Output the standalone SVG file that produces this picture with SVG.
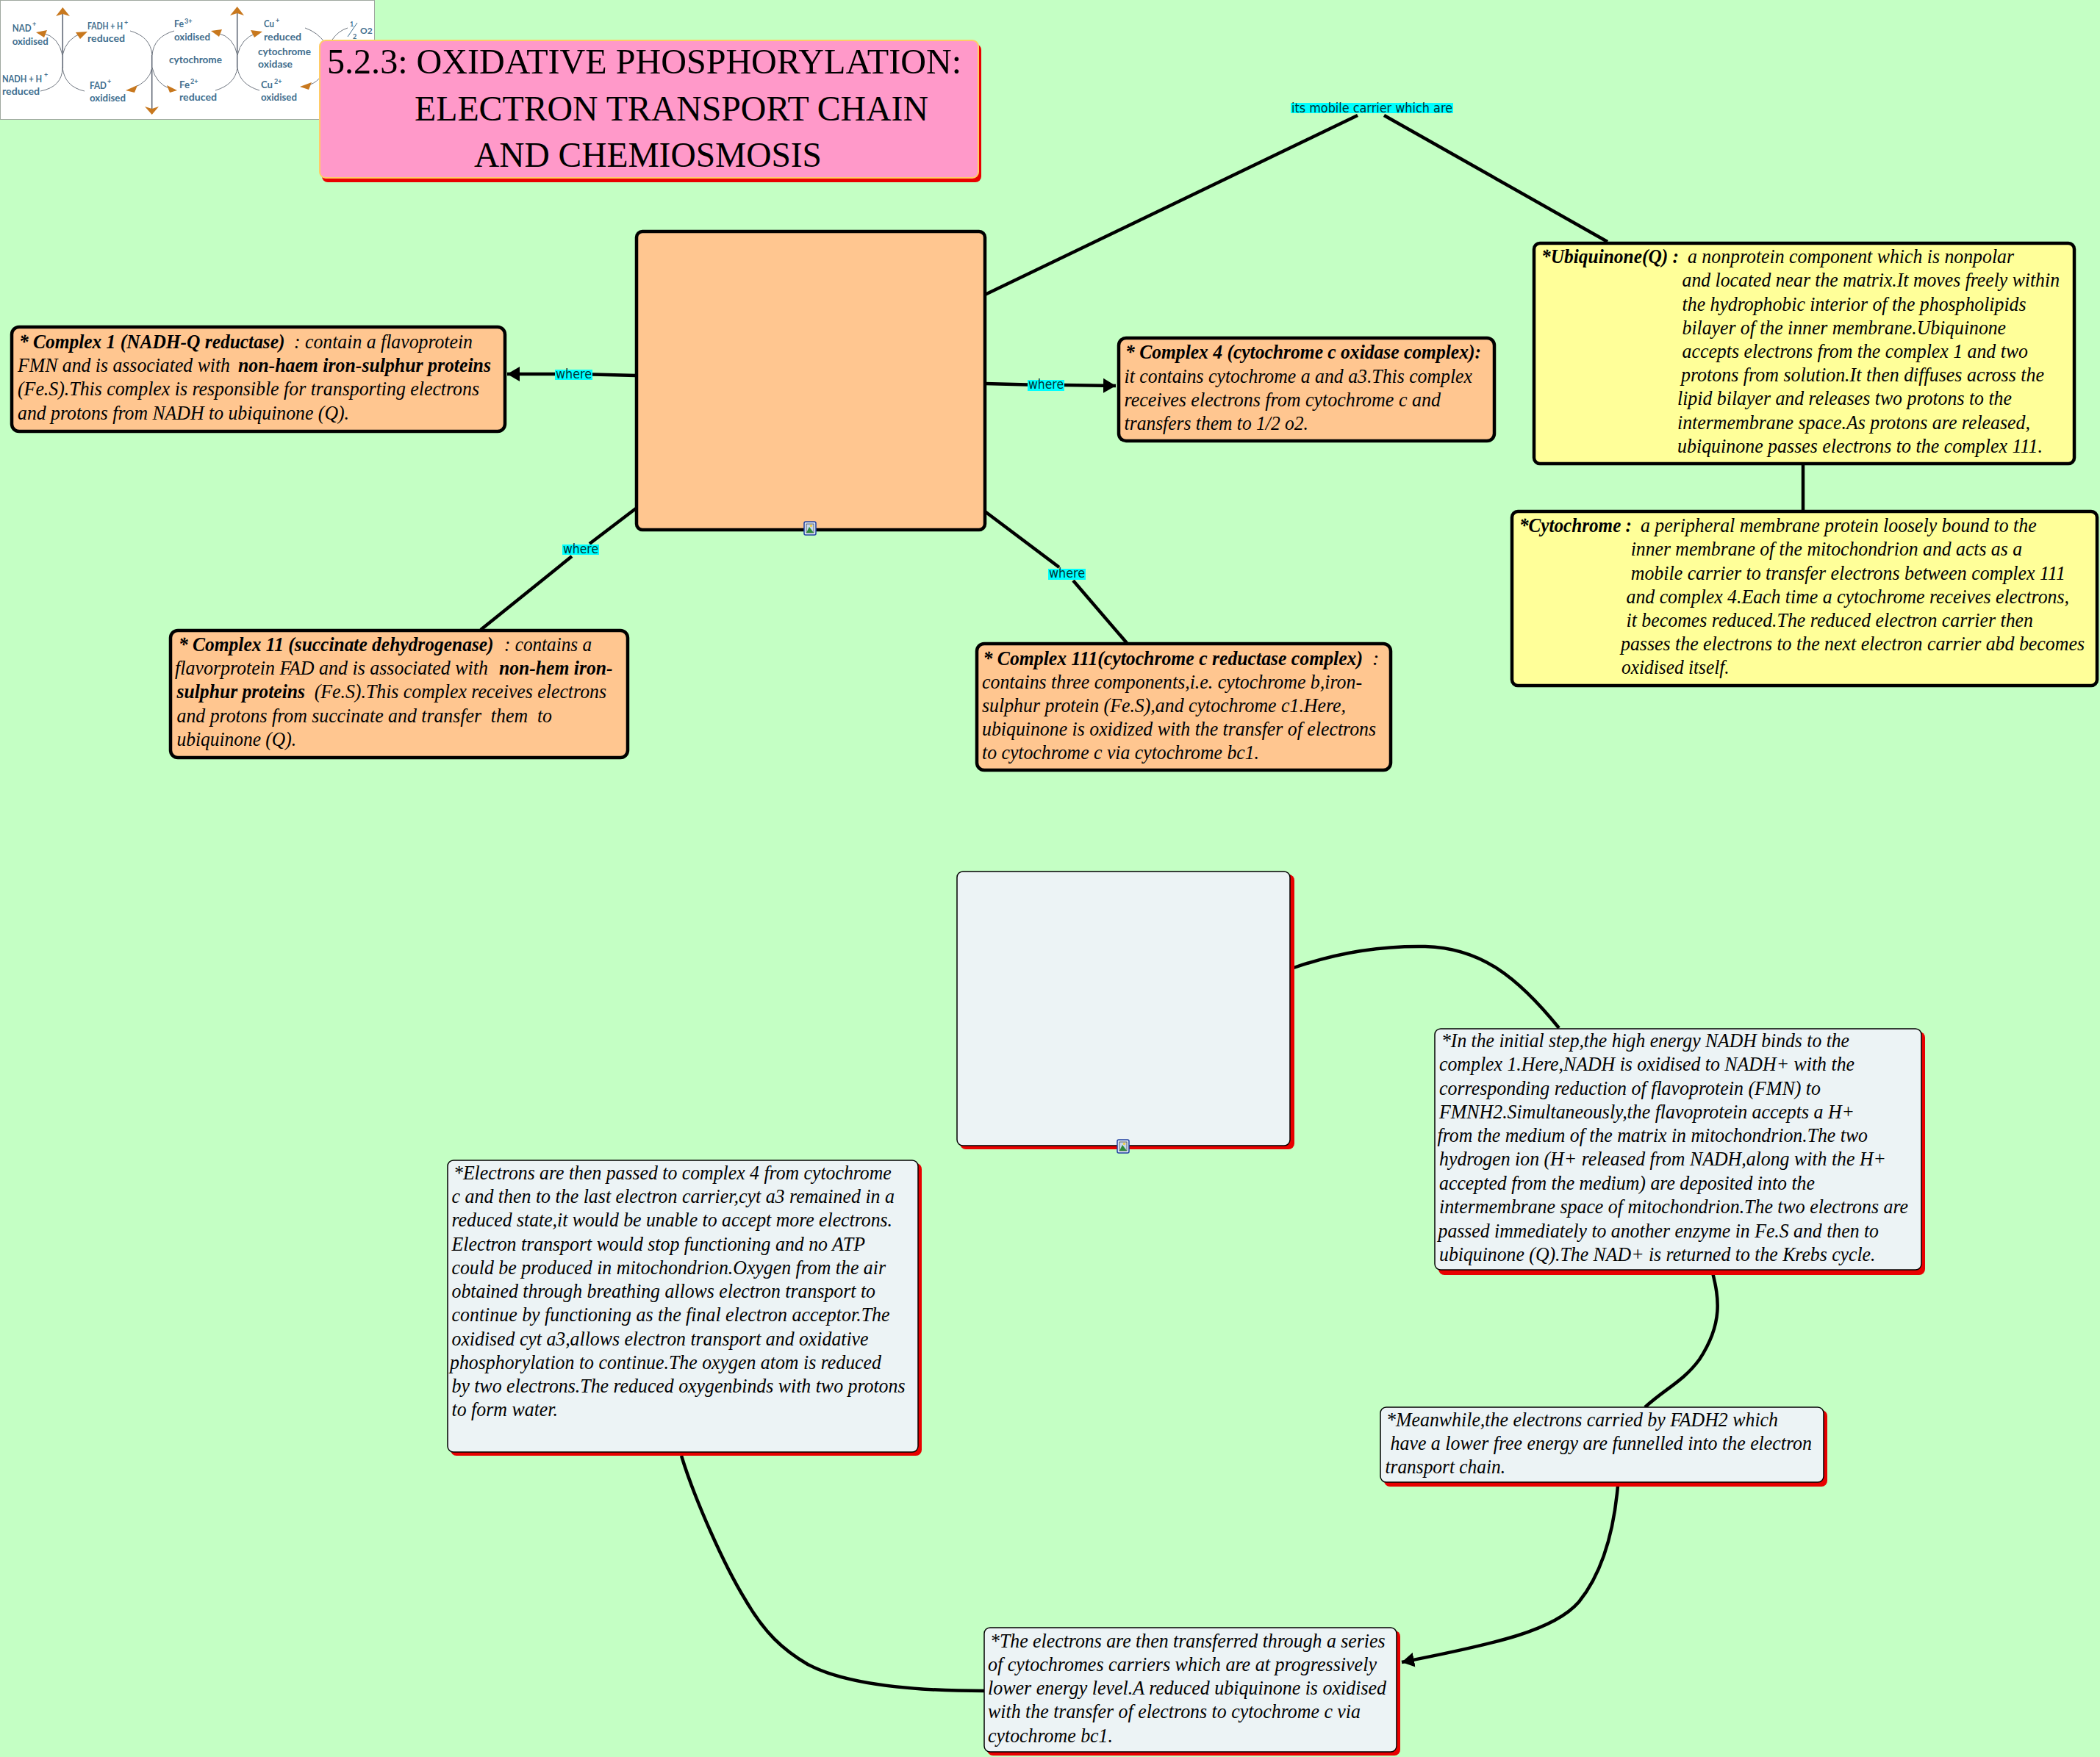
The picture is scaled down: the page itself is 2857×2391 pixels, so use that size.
<svg xmlns="http://www.w3.org/2000/svg" width="2857" height="2391" viewBox="0 0 2857 2391">
<style>
text{white-space:pre}
.b{font-family:"Liberation Serif",serif;font-style:italic;font-size:28px;fill:#000}
.bb{font-weight:bold}
.o{fill:#FFC690;stroke:#000;stroke-width:4.500}
.y{fill:#FFFF99;stroke:#000;stroke-width:4.500}
.g{fill:#ECF3F5;stroke:#000;stroke-width:1.500}
.s{fill:#E80000}
.c{fill:none;stroke:#000;stroke-width:4.500}
.lb{fill:#00FFFF}
.lt{font-family:"DejaVu Sans",sans-serif;font-size:17px;fill:#003333}
.p{font-family:Lato,"Liberation Sans",sans-serif;font-size:14px;font-weight:bold;fill:#3F6E8E}
.sp{font-family:Lato,"Liberation Sans",sans-serif;font-size:9px;font-weight:bold;fill:#3F6E8E}
.a{fill:none;stroke:#6F7680;stroke-width:1}
.v{fill:none;stroke:#5A6270;stroke-width:1.500}
.h{fill:#C8781E}
.t{font-family:"Liberation Serif",serif;font-size:48px;fill:#000}
</style>
<defs>
<marker id="ah" markerUnits="userSpaceOnUse" markerWidth="18" markerHeight="20" refX="17" refY="10" orient="auto"><path d="M0 0L17 10L0 20Z" fill="#000"/></marker>
<g id="pic"><rect x="0" y="0" width="16" height="18" rx="2" fill="#DCE8F8" stroke="#2040A0" stroke-width="1.500"/><rect x="3" y="3" width="10" height="12" fill="#C8D8F0" stroke="#333" stroke-width=".7"/><circle cx="9.500" cy="5.500" r="1.800" fill="#F0D050"/><path d="M3 15L7 7L13 15Z" fill="#2E8B3A"/></g>
</defs>
<rect width="2857" height="2391" fill="#C4FFC4"/>

<g id="picture-top">
<rect x=".5" y=".5" width="509" height="162" fill="#FFFFFF" stroke="#A0A8A0" stroke-width="1"/>
<path class="v" d="M85.300 93V18M206.700 75V148M322.700 92V18"/>
<path class="a" d="M85 75Q80 50 58 45M85 75Q90 52 112 45M55 124Q85 118 85 92M115 124Q88 118 85 92M177 42Q205 50 207 75M237 42Q209 50 207 75M207 92Q203 112 180 120M207 92Q212 114 232 121M293 123Q320 115 323 92M353 123Q326 115 323 92M323 75Q318 50 296 45M323 75Q328 52 349 45M415 38Q432 44 442 58M473 38Q460 42 452 54M434 107Q428 114 416 117"/>
<path class="h" d="M85.300 10L76 22L85.300 19L95 22ZM206.700 156L197 145L206.700 148L216 145ZM322.700 9L313 21L322.700 18L332 21ZM49 44L64 41L60 51ZM119 43L103 44L109 53ZM287 42L302 40L298 50ZM357 43L341 41L346 51ZM171 123L187 116L183 126ZM241 123L227 116L231 126ZM408 118L424 112L420 122Z"/>
<text class="p" x="16.700" y="43" textLength="26" lengthAdjust="spacingAndGlyphs">NAD</text><text class="sp" x="44" y="36">+</text>
<text class="p" x="16.700" y="61" textLength="49" lengthAdjust="spacingAndGlyphs">oxidised</text>
<text class="p" x="119" y="40" textLength="48" lengthAdjust="spacingAndGlyphs">FADH + H</text><text class="sp" x="169" y="34">+</text>
<text class="p" x="119" y="57" textLength="51" lengthAdjust="spacingAndGlyphs">reduced</text>
<text class="p" x="237" y="37" textLength="13" lengthAdjust="spacingAndGlyphs">Fe</text><text class="sp" x="251" y="32">3+</text>
<text class="p" x="237" y="54.500" textLength="49" lengthAdjust="spacingAndGlyphs">oxidised</text>
<text class="p" x="230" y="85.700" textLength="72" lengthAdjust="spacingAndGlyphs">cytochrome</text>
<text class="p" x="3" y="111.700" textLength="54" lengthAdjust="spacingAndGlyphs">NADH + H</text><text class="sp" x="60" y="105">+</text>
<text class="p" x="3" y="129" textLength="51" lengthAdjust="spacingAndGlyphs">reduced</text>
<text class="p" x="122" y="120.700" textLength="23" lengthAdjust="spacingAndGlyphs">FAD</text><text class="sp" x="146" y="114">+</text>
<text class="p" x="122" y="137.700" textLength="49" lengthAdjust="spacingAndGlyphs">oxidised</text>
<text class="p" x="244" y="120" textLength="14" lengthAdjust="spacingAndGlyphs">Fe</text><text class="sp" x="259" y="114">2+</text>
<text class="p" x="244" y="137" textLength="51" lengthAdjust="spacingAndGlyphs">reduced</text>
<text class="p" x="359" y="37" textLength="14" lengthAdjust="spacingAndGlyphs">Cu</text><text class="sp" x="375" y="31">+</text>
<text class="p" x="359" y="55" textLength="51" lengthAdjust="spacingAndGlyphs">reduced</text>
<text class="p" x="351" y="75" textLength="72" lengthAdjust="spacingAndGlyphs">cytochrome</text>
<text class="p" x="351" y="92" textLength="47" lengthAdjust="spacingAndGlyphs">oxidase</text>
<text class="p" x="355" y="120" textLength="16" lengthAdjust="spacingAndGlyphs">Cu</text><text class="sp" x="373" y="114">2+</text>
<text class="p" x="355" y="137" textLength="49" lengthAdjust="spacingAndGlyphs">oxidised</text>
<text class="sp" x="476" y="36">1</text><path d="M473 50L486 31" stroke="#3F6E8E" stroke-width="1" fill="none"/><text class="sp" x="480" y="53">2</text><text class="sp" x="490" y="46" style="font-size:12px">O2</text>
</g>

<g id="connectors">
<path class="c" d="M865 511L806 509.500"/>
<path class="c" marker-end="url(#ah)" d="M756 509L690 509"/>
<path class="c" d="M865 692L802 740M778 757L654 857"/>
<path class="c" d="M1340 522L1398 523.500"/>
<path class="c" marker-end="url(#ah)" d="M1448 524L1518 525"/>
<path class="c" d="M1340 696L1441 772M1460 790L1533 875"/>
<path class="c" d="M1340 401L1847 157M1883 157L2187 329"/>
<path class="c" d="M2453 631V695"/>
<path class="c" d="M1760 1317C1820 1296 1880 1287 1939 1288C2015 1290 2065 1330 2121 1399"/>
<path class="c" d="M2330 1732C2338 1765 2345 1800 2312 1850C2290 1880 2265 1890 2238 1915"/>
<path class="c" marker-end="url(#ah)" d="M2201 2022C2195 2090 2178 2143 2148 2180C2115 2218 2040 2236 1907 2262"/>
<path class="c" d="M927 1981C945 2040 985 2130 1014 2177C1040 2222 1065 2245 1099 2265C1150 2292 1240 2301 1339 2301"/>
</g>

<g id="title">
<rect class="s" x="438" y="60" width="897" height="188" rx="8"/>
<rect x="435" y="55" width="896" height="187" rx="8" fill="#FF99C9" stroke="#FFCC66" stroke-width="2"/>
<text class="t" x="445" y="100" textLength="863" lengthAdjust="spacingAndGlyphs">5.2.3: OXIDATIVE PHOSPHORYLATION:</text>
<text class="t" x="564" y="164" textLength="699" lengthAdjust="spacingAndGlyphs">ELECTRON TRANSPORT CHAIN</text>
<text class="t" x="645" y="227" textLength="473" lengthAdjust="spacingAndGlyphs">AND CHEMIOSMOSIS</text>
</g>

<g id="main-box"><rect class="o" x="866" y="315" width="474" height="406" rx="8"/><use href="#pic" x="1094" y="710"/></g>

<g id="complex1"><rect class="o" x="16" y="445" width="671" height="142" rx="10"/>
<text class="b bb" x="26" y="474" textLength="361.500" lengthAdjust="spacingAndGlyphs">* Complex 1 (NADH-Q reductase)</text>
<text class="b" x="400" y="474" textLength="243" lengthAdjust="spacingAndGlyphs">: contain a flavoprotein</text>
<text class="b" x="24" y="506" textLength="289" lengthAdjust="spacingAndGlyphs">FMN and is associated with</text>
<text class="b bb" x="324" y="506" textLength="344" lengthAdjust="spacingAndGlyphs">non-haem iron-sulphur proteins</text>
<text class="b" x="24" y="538" textLength="628" lengthAdjust="spacingAndGlyphs">(Fe.S).This complex is responsible for transporting electrons</text>
<text class="b" x="24" y="570.600" textLength="451" lengthAdjust="spacingAndGlyphs">and protons from NADH to ubiquinone (Q).</text>
</g>

<g id="complex11"><rect class="o" x="232" y="858" width="622" height="173" rx="10"/>
<text class="b bb" x="243" y="886" textLength="428.600" lengthAdjust="spacingAndGlyphs">* Complex 11 (succinate dehydrogenase)</text>
<text class="b" x="686" y="886" textLength="119" lengthAdjust="spacingAndGlyphs">: contains a</text>
<text class="b" x="238" y="918" textLength="426" lengthAdjust="spacingAndGlyphs">flavorprotein FAD and is associated with</text>
<text class="b bb" x="679" y="918" textLength="154.500" lengthAdjust="spacingAndGlyphs">non-hem iron-</text>
<text class="b bb" x="240.500" y="950" textLength="174.500" lengthAdjust="spacingAndGlyphs">sulphur proteins</text>
<text class="b" x="427.700" y="950" textLength="397.300" lengthAdjust="spacingAndGlyphs">(Fe.S).This complex receives electrons</text>
<text class="b" x="240.500" y="982.500" textLength="510.500" lengthAdjust="spacingAndGlyphs">and protons from succinate and transfer  them  to</text>
<text class="b" x="240.500" y="1014.700" textLength="162.500" lengthAdjust="spacingAndGlyphs">ubiquinone (Q).</text>
</g>

<g id="complex4"><rect class="o" x="1522" y="460" width="511" height="140" rx="10"/>
<text class="b bb" x="1531" y="488" textLength="484" lengthAdjust="spacingAndGlyphs">* Complex 4 (cytochrome c oxidase complex):</text>
<text class="b" x="1529.600" y="520.500" textLength="473.400" lengthAdjust="spacingAndGlyphs">it contains cytochrome a and a3.This complex</text>
<text class="b" x="1529.600" y="553" textLength="430.400" lengthAdjust="spacingAndGlyphs">receives electrons from cytochrome c and</text>
<text class="b" x="1529.600" y="585" textLength="250.400" lengthAdjust="spacingAndGlyphs">transfers them to 1/2 o2.</text>
</g>

<g id="complex111"><rect class="o" x="1329" y="876" width="563" height="172" rx="10"/>
<text class="b bb" x="1337.500" y="904.500" textLength="516.500" lengthAdjust="spacingAndGlyphs">* Complex 111(cytochrome c reductase complex)</text>
<text class="b" x="1867" y="904.500">:</text>
<text class="b" x="1336" y="936.500" textLength="517" lengthAdjust="spacingAndGlyphs">contains three components,i.e. cytochrome b,iron-</text>
<text class="b" x="1336" y="969" textLength="495" lengthAdjust="spacingAndGlyphs">sulphur protein (Fe.S),and cytochrome c1.Here,</text>
<text class="b" x="1336" y="1001" textLength="536" lengthAdjust="spacingAndGlyphs">ubiquinone is oxidized with the transfer of electrons</text>
<text class="b" x="1336" y="1033" textLength="377" lengthAdjust="spacingAndGlyphs">to cytochrome c via cytochrome bc1.</text>
</g>

<g id="ubiquinone"><rect class="y" x="2087" y="331" width="735" height="300" rx="8"/>
<text class="b bb" x="2097" y="357.600" textLength="187" lengthAdjust="spacingAndGlyphs">*Ubiquinone(Q) :</text>
<text class="b" x="2296" y="357.600" textLength="444" lengthAdjust="spacingAndGlyphs">a nonprotein component which is nonpolar</text>
<text class="b" x="2288.600" y="390" textLength="513.400" lengthAdjust="spacingAndGlyphs">and located near the matrix.It moves freely within</text>
<text class="b" x="2288.600" y="423" textLength="467.900" lengthAdjust="spacingAndGlyphs">the hydrophobic interior of the phospholipids</text>
<text class="b" x="2288.600" y="454.500" textLength="440.400" lengthAdjust="spacingAndGlyphs">bilayer of the inner membrane.Ubiquinone</text>
<text class="b" x="2288.600" y="487" textLength="470.400" lengthAdjust="spacingAndGlyphs">accepts electrons from the complex 1 and two</text>
<text class="b" x="2287" y="519" textLength="494" lengthAdjust="spacingAndGlyphs">protons from solution.It then diffuses across the</text>
<text class="b" x="2282" y="551" textLength="455" lengthAdjust="spacingAndGlyphs">lipid bilayer and releases two protons to the</text>
<text class="b" x="2282" y="583.700" textLength="480" lengthAdjust="spacingAndGlyphs">intermembrane space.As protons are released,</text>
<text class="b" x="2282" y="616" textLength="497" lengthAdjust="spacingAndGlyphs">ubiquinone passes electrons to the complex 111.</text>
</g>

<g id="cytochrome"><rect class="y" x="2057" y="696" width="796" height="237" rx="8"/>
<text class="b bb" x="2067" y="724" textLength="153" lengthAdjust="spacingAndGlyphs">*Cytochrome :</text>
<text class="b" x="2232" y="724" textLength="538.600" lengthAdjust="spacingAndGlyphs">a peripheral membrane protein loosely bound to the</text>
<text class="b" x="2218.700" y="756" textLength="532.300" lengthAdjust="spacingAndGlyphs">inner membrane of the mitochondrion and acts as a</text>
<text class="b" x="2218.700" y="788.500" textLength="591.300" lengthAdjust="spacingAndGlyphs">mobile carrier to transfer electrons between complex 111</text>
<text class="b" x="2212.500" y="821" textLength="602.500" lengthAdjust="spacingAndGlyphs">and complex 4.Each time a cytochrome receives electrons,</text>
<text class="b" x="2212.500" y="853" textLength="553.500" lengthAdjust="spacingAndGlyphs">it becomes reduced.The reduced electron carrier then</text>
<text class="b" x="2205" y="885" textLength="631" lengthAdjust="spacingAndGlyphs">passes the electrons to the next electron carrier abd becomes</text>
<text class="b" x="2206" y="917" textLength="146.700" lengthAdjust="spacingAndGlyphs">oxidised itself.</text>
</g>

<g id="image-box"><rect class="s" x="1306" y="1190" width="455" height="374" rx="8"/><rect class="g" x="1302" y="1186" width="453" height="373" rx="8"/><use href="#pic" x="1520" y="1551"/></g>

<g id="step-nadh"><rect class="s" x="1957" y="1404" width="662" height="331" rx="8"/><rect class="g" x="1952" y="1400" width="662" height="328" rx="8"/>
<text class="b" x="1961" y="1425" textLength="555" lengthAdjust="spacingAndGlyphs">*In the initial step,the high energy NADH binds to the</text>
<text class="b" x="1958" y="1457" textLength="565" lengthAdjust="spacingAndGlyphs">complex 1.Here,NADH is oxidised to NADH+ with the</text>
<text class="b" x="1958" y="1490" textLength="519" lengthAdjust="spacingAndGlyphs">corresponding reduction of flavoprotein (FMN) to</text>
<text class="b" x="1958" y="1522" textLength="565" lengthAdjust="spacingAndGlyphs">FMNH2.Simultaneously,the flavoprotein accepts a H+</text>
<text class="b" x="1955.600" y="1554" textLength="585.400" lengthAdjust="spacingAndGlyphs">from the medium of the matrix in mitochondrion.The two</text>
<text class="b" x="1958" y="1586" textLength="608" lengthAdjust="spacingAndGlyphs">hydrogen ion (H+ released from NADH,along with the H+</text>
<text class="b" x="1958" y="1619" textLength="511" lengthAdjust="spacingAndGlyphs">accepted from the medium) are deposited into the</text>
<text class="b" x="1958" y="1651" textLength="638" lengthAdjust="spacingAndGlyphs">intermembrane space of mitochondrion.The two electrons are</text>
<text class="b" x="1956.500" y="1683.500" textLength="599.500" lengthAdjust="spacingAndGlyphs">passed immediately to another enzyme in Fe.S and then to</text>
<text class="b" x="1958" y="1715.500" textLength="593.500" lengthAdjust="spacingAndGlyphs">ubiquinone (Q).The NAD+ is returned to the Krebs cycle.</text>
</g>

<g id="step-fadh"><rect class="s" x="1883" y="1919" width="603" height="104" rx="8"/><rect class="g" x="1878" y="1915" width="603" height="102" rx="8"/>
<text class="b" x="1886" y="1940.500" textLength="533" lengthAdjust="spacingAndGlyphs">*Meanwhile,the electrons carried by FADH2 which</text>
<text class="b" x="1891.500" y="1972.500" textLength="573.500" lengthAdjust="spacingAndGlyphs">have a lower free energy are funnelled into the electron</text>
<text class="b" x="1884.500" y="2005" textLength="163.500" lengthAdjust="spacingAndGlyphs">transport chain.</text>
</g>

<g id="step-electrons"><rect class="s" x="613" y="1583" width="641" height="398" rx="8"/><rect class="g" x="609" y="1579" width="640" height="397" rx="8"/>
<text class="b" x="617" y="1605" textLength="595.800" lengthAdjust="spacingAndGlyphs">*Electrons are then passed to complex 4 from cytochrome</text>
<text class="b" x="614.500" y="1637" textLength="602.500" lengthAdjust="spacingAndGlyphs">c and then to the last electron carrier,cyt a3 remained in a</text>
<text class="b" x="614.500" y="1669" textLength="599.500" lengthAdjust="spacingAndGlyphs">reduced state,it would be unable to accept more electrons.</text>
<text class="b" x="614.500" y="1702" textLength="562.500" lengthAdjust="spacingAndGlyphs">Electron transport would stop functioning and no ATP</text>
<text class="b" x="614.500" y="1734" textLength="590.500" lengthAdjust="spacingAndGlyphs">could be produced in mitochondrion.Oxygen from the air</text>
<text class="b" x="614.500" y="1766" textLength="576.500" lengthAdjust="spacingAndGlyphs">obtained through breathing allows electron transport to</text>
<text class="b" x="614.500" y="1798" textLength="596" lengthAdjust="spacingAndGlyphs">continue by functioning as the final electron acceptor.The</text>
<text class="b" x="614.500" y="1831" textLength="567" lengthAdjust="spacingAndGlyphs">oxidised cyt a3,allows electron transport and oxidative</text>
<text class="b" x="612" y="1863" textLength="587" lengthAdjust="spacingAndGlyphs">phosphorylation to continue.The oxygen atom is reduced</text>
<text class="b" x="614.500" y="1895" textLength="617" lengthAdjust="spacingAndGlyphs">by two electrons.The reduced oxygenbinds with two protons</text>
<text class="b" x="614.500" y="1927" textLength="144.500" lengthAdjust="spacingAndGlyphs">to form water.</text>
</g>

<g id="step-series"><rect class="s" x="1343" y="2219" width="562" height="170" rx="8"/><rect class="g" x="1339" y="2215" width="561" height="169" rx="8"/>
<text class="b" x="1347" y="2241.700" textLength="537.500" lengthAdjust="spacingAndGlyphs">*The electrons are then transferred through a series</text>
<text class="b" x="1344" y="2274" textLength="529" lengthAdjust="spacingAndGlyphs">of cytochromes carriers which are at progressively</text>
<text class="b" x="1344" y="2306" textLength="542" lengthAdjust="spacingAndGlyphs">lower energy level.A reduced ubiquinone is oxidised</text>
<text class="b" x="1344" y="2338" textLength="507" lengthAdjust="spacingAndGlyphs">with the transfer of electrons to cytochrome c via</text>
<text class="b" x="1344" y="2370.700" textLength="170" lengthAdjust="spacingAndGlyphs">cytochrome bc1.</text>
</g>

<g id="labels">
<rect class="lb" x="755" y="503" width="51" height="14"/><text class="lt" x="756" y="515" textLength="49" lengthAdjust="spacingAndGlyphs">where</text>
<rect class="lb" x="765" y="741" width="50" height="14"/><text class="lt" x="766" y="753" textLength="48" lengthAdjust="spacingAndGlyphs">where</text>
<rect class="lb" x="1398" y="517" width="50" height="15"/><text class="lt" x="1399" y="529" textLength="48" lengthAdjust="spacingAndGlyphs">where</text>
<rect class="lb" x="1426" y="774" width="51" height="15"/><text class="lt" x="1427" y="786" textLength="49" lengthAdjust="spacingAndGlyphs">where</text>
<rect class="lb" x="1756" y="140" width="221" height="14"/><text class="lt" x="1757" y="152.500" textLength="219" lengthAdjust="spacingAndGlyphs">its mobile carrier which are</text>
</g>
</svg>
